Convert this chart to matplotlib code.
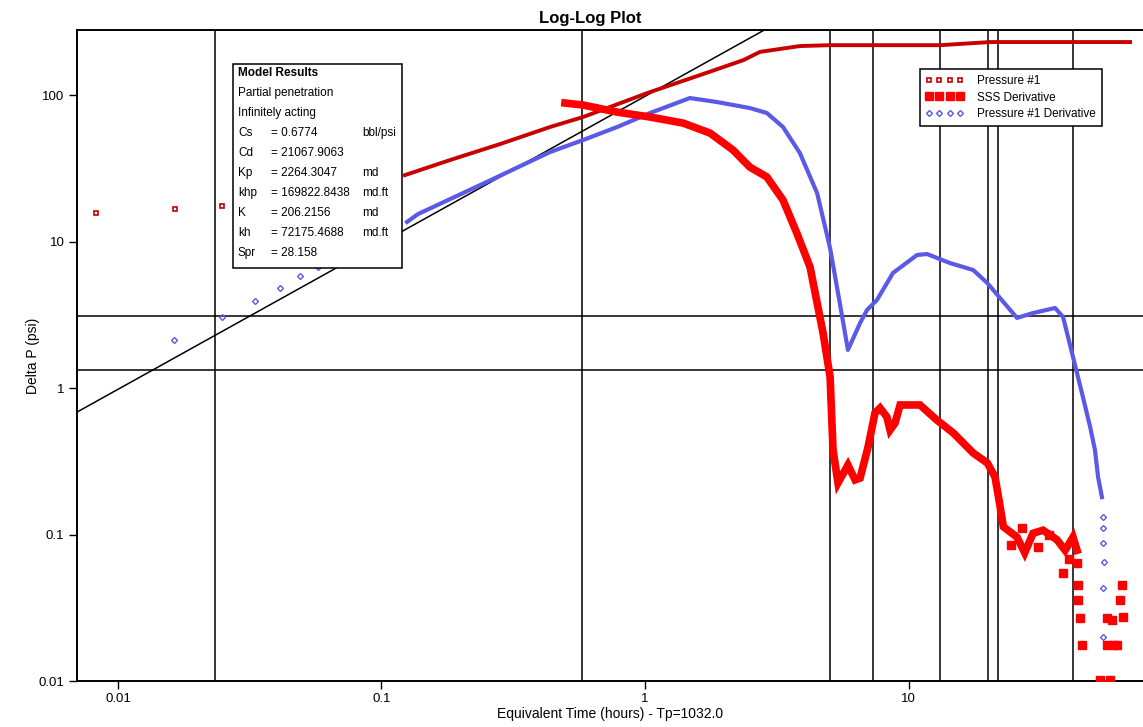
import matplotlib
matplotlib.use("Agg")
import matplotlib.pyplot as plt
from matplotlib.lines import Line2D
from matplotlib.patches import Rectangle
from matplotlib.ticker import FixedLocator, FixedFormatter, NullLocator
import numpy as np

plt.rcParams['font.family'] = ['Liberation Sans', 'DejaVu Sans']

# Pressure #1 (first three points are isolated early readings)
p1_t = [0.00825, 0.0165, 0.0248, 0.1227, 0.182, 0.282, 0.436, 0.582, 1.045,
        1.62, 2.36, 2.73, 3.87, 5.04, 9.29, 13.2, 20.4, 34.4, 69.3]
p1_dp = [15.7, 16.7, 17.5, 28.4, 36.0, 46.3, 60.5, 70.8, 104.8,
         137, 173, 197, 216, 219, 219, 219, 230, 230, 230]

# Pressure #1 Derivative
bd_t = [0.0163, 0.0248, 0.0331, 0.0412, 0.0491, 0.0574, 0.125, 0.1376, 0.237,
        0.436, 0.582, 0.784, 1.045, 1.48, 1.876, 2.50, 2.90, 3.34, 3.87, 4.50,
        5.04, 5.50, 5.89, 6.55, 6.96, 7.59, 8.73, 10.77, 11.75, 14.37, 17.6,
        19.9, 25.8, 29.7, 36.0, 38.6, 42.1, 45.9, 48.9, 51.0, 52.4, 54.2, 54.7,
        54.7, 54.7, 55.2, 54.7, 54.7]
bd_dp = [2.13, 3.05, 3.93, 4.81, 5.82, 6.70, 13.6, 15.4, 24.3,
         40.8, 49.3, 60.5, 75.4, 95.4, 89.6, 81.5, 75.4, 60.5, 40.2, 21.4,
         9.0, 3.7, 1.82, 2.78, 3.41, 3.99, 6.10, 8.09, 8.22, 7.13, 6.39,
         5.21, 3.01, 3.25, 3.52, 3.05, 1.63, 0.869, 0.542, 0.378, 0.247, 0.180, 0.132,
         0.111, 0.0875, 0.0649, 0.0432, 0.0200]

# SSS Derivative
sss_t = [0.497, 0.582, 0.784, 1.045, 1.394, 1.765, 2.16, 2.50, 2.90, 3.34, 3.77,
         4.23, 4.74, 5.04, 5.17, 5.40, 5.89, 6.27, 6.55, 7.02, 7.46, 7.80, 8.28,
         8.51, 8.89, 9.29, 11.06, 12.8, 14.8, 17.6, 19.9, 21.3, 22.2, 22.9, 25.8,
         27.6, 29.7, 32.4, 36.6, 39.3, 42.1, 43.6]
sss_dp = [88.2, 85.5, 76.5, 70.8, 64.4, 55.0, 42.1, 32.2, 27.6, 19.2, 11.4,
          6.70, 2.37, 1.19, 0.378, 0.225, 0.298, 0.236, 0.243, 0.395, 0.675, 0.730, 0.634,
          0.517, 0.577, 0.766, 0.766, 0.605, 0.493, 0.360, 0.308, 0.247, 0.16, 0.113, 0.096,
          0.075, 0.102, 0.107, 0.092, 0.078, 0.096, 0.078]
# scattered late-time SSS readings
sss_tail_t = [24.5, 27.0, 31.0, 34.0, 38.6, 40.5, 43.6, 44.0, 44.0, 44.8, 45.5,
              56.6, 56.6, 63.5, 64.6, 65.2, 61.8, 53.3, 58.2, 60.0, 59.4]
sss_tail_dp = [0.085, 0.110, 0.082, 0.100, 0.0546, 0.068, 0.0639, 0.0452, 0.0357,
               0.0269, 0.0176, 0.0269, 0.0176, 0.0357, 0.0452, 0.0273, 0.0176,
               0.0102, 0.0102, 0.0176, 0.0262]

# unit-slope storage line  dP = C * t
storage_c = 98.0

# marker lines
vlines_t = [0.0233, 0.577, 5.04, 7.33, 13.2, 20.0, 21.9, 42.1]
hlines_dp = [3.1, 1.33]

model_lines = [("Cs", "= 0.6774", "bbl/psi"),
               ("Cd", "= 21067.9063", ""),
               ("Kp", "= 2264.3047", "md"),
               ("khp", "= 169822.8438", "md.ft"),
               ("K", "= 206.2156", "md"),
               ("kh", "= 72175.4688", "md.ft"),
               ("Spr", "= 28.158", "")]

RED_P = '#c80000'
RED_S = '#ff0000'
BLUE = '#5a5ae6'

fig = plt.figure(figsize=(11.43, 7.27), dpi=100)
ax = fig.add_axes([77 / 1143, 46 / 727, 1066 / 1143, 651 / 727])
ax.set_xscale('log')
ax.set_yscale('log')
ax.set_xlim(0.00699, 77.6)
ax.set_ylim(0.01, 278)

for t in vlines_t:
    ax.axvline(t, color='black', lw=1.1, zorder=1)
for p in hlines_dp:
    ax.axhline(p, color='black', lw=1.1, zorder=1)

tt = np.array([0.005, 5.0])
ax.plot(tt, storage_c * tt, color='black', lw=1.1, zorder=2)

# Pressure #1
ax.plot(p1_t[:3], p1_dp[:3], ls='none', marker='s', ms=3, mfc='none',
        mec=RED_P, mew=1.2, zorder=3)
ax.plot(p1_t[3:], p1_dp[3:], color=RED_P, lw=2.8, zorder=3)

# Pressure #1 derivative
bt = np.array(bd_t)
bp = np.array(bd_dp)
dense = (bt > 0.1) & (bp > 0.15)
ax.plot(bt[~dense], bp[~dense], ls='none', marker='D', ms=3, mfc='none',
        mec=BLUE, mew=1.0, zorder=4)
ax.plot(bt[dense], bp[dense], color=BLUE, lw=3.0, zorder=4)

# SSS derivative
ax.plot(sss_t, sss_dp, color=RED_S, lw=5.5, solid_joinstyle='miter', zorder=5)
ax.plot(sss_tail_t, sss_tail_dp, ls='none', marker='s', ms=5.5, color=RED_S, zorder=5)

ax.xaxis.set_major_locator(FixedLocator([0.01, 0.1, 1, 10]))
ax.xaxis.set_major_formatter(FixedFormatter(['0.01', '0.1', '1', '10']))
ax.yaxis.set_major_locator(FixedLocator([0.01, 0.1, 1, 10, 100]))
ax.yaxis.set_major_formatter(FixedFormatter(['0.01', '0.1', '1', '10', '100']))
ax.xaxis.set_minor_locator(NullLocator())
ax.yaxis.set_minor_locator(NullLocator())
ax.tick_params(axis='both', direction='out', length=6, width=1, labelsize=9.5,
               colors='black', pad=3)
ax.spines['right'].set_visible(False)
for s in ['left', 'bottom', 'top']:
    ax.spines[s].set_linewidth(1.4)

ax.set_xlabel('Equivalent Time (hours) - Tp=1032.0', fontsize=10, labelpad=1)
ax.set_ylabel('Delta P (psi)', fontsize=10, labelpad=-1)
fig.text(590 / 1143, 1 - 18 / 727, 'Log-Log Plot', ha='center', va='center',
         fontsize=12, fontweight='bold')

# model results box
bx0, bx1, by0, by1 = 0.1463, 0.3049, 0.6344, 0.9478
ax.add_patch(Rectangle((bx0, by0), bx1 - bx0, by1 - by0, transform=ax.transAxes,
                       facecolor='white', edgecolor='black', lw=1.1, zorder=10))
step = (by1 - by0) / 10.2
rows = [("Model Results", None, None, True), ("Partial penetration", None, None, False),
        ("Infinitely acting", None, None, False)] + [(a, b, c, False) for a, b, c in model_lines]
for i, (a, b, c, bold) in enumerate(rows):
    y = by1 - (i + 0.45) * step
    ax.text(0.1510, y, a, transform=ax.transAxes, fontsize=8.5, va='center',
            fontweight='bold' if bold else 'normal', zorder=11)
    if b:
        ax.text(0.1820, y, b, transform=ax.transAxes, fontsize=8.5, va='center', zorder=11)
    if c:
        ax.text(0.2674, y, c, transform=ax.transAxes, fontsize=8.5, va='center', zorder=11)

handles = [Line2D([], [], ls='none', marker='s', ms=3, mfc='none', mec=RED_P, mew=1.2),
           Line2D([], [], ls='none', marker='s', ms=5.5, color=RED_S),
           Line2D([], [], ls='none', marker='D', ms=3, mfc='none', mec=BLUE, mew=1.0)]
leg = ax.legend(handles, ['Pressure #1', 'SSS Derivative', 'Pressure #1 Derivative'],
                loc='upper right', bbox_to_anchor=(0.9672, 0.9493), numpoints=4,
                fontsize=8.5, frameon=True, fancybox=False, framealpha=1,
                edgecolor='black', handlelength=3.2, handletextpad=1.2,
                borderpad=0.5, labelspacing=0.4)
leg.get_frame().set_linewidth(1.1)
leg.set_zorder(12)

fig.savefig('out.png', dpi=100)
